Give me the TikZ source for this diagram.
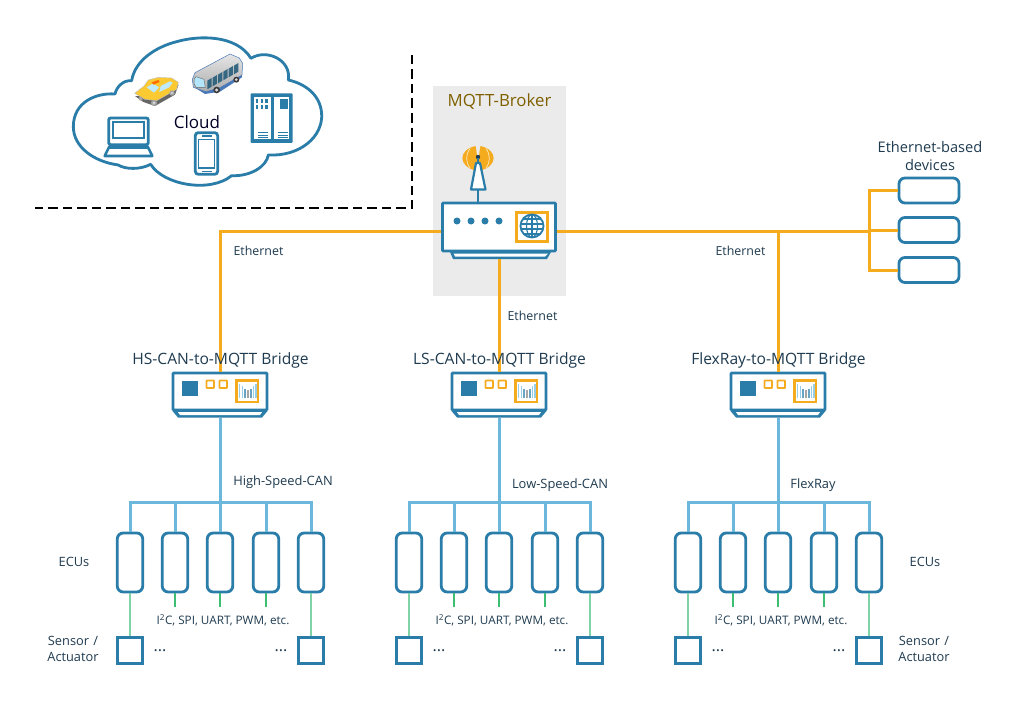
\documentclass[tikz,border=0pt]{standalone}
\usepackage{fontspec}
\setmainfont{Open Sans}
\definecolor{cblue}{HTML}{2A7DA8}
\definecolor{corange}{HTML}{F5AB1E}
\definecolor{clight}{HTML}{6CB8DC}
\definecolor{cgreen}{HTML}{80D3A6}
\definecolor{cgreend}{HTML}{3CBF72}
\definecolor{cgray}{HTML}{EBEBEB}
\definecolor{ctext}{HTML}{1F3B50}
\definecolor{cbrown}{HTML}{7F6000}
\definecolor{ctaxi}{HTML}{FBC931}
\definecolor{cbusb}{HTML}{4A78B8}
\tikzset{
  ecubox/.style={draw=cblue,line width=2.8pt,rounded corners=6pt,fill=white,minimum width=25.5pt,minimum height=59pt,inner sep=0pt},
  sensbox/.style={draw=cblue,line width=2.8pt,fill=white,minimum width=25.5pt,minimum height=25.5pt,inner sep=0pt},
  devbox/.style={draw=cblue,line width=2.8pt,rounded corners=6pt,fill=white,minimum width=60pt,minimum height=25pt,inner sep=0pt},
  hostbox/.style={draw=cblue,line width=2.8pt,fill=white,inner sep=0pt,rounded corners=0.8pt},
  foot/.style={draw=none,inner sep=0pt,minimum height=6pt},
  ethline/.style={draw=corange,line width=3pt},
  canline/.style={draw=clight,line width=3pt},
  gline/.style={draw=cgreen,line width=1.8pt},
  gthin/.style={draw=cgreend,line width=1.1pt},
  big/.style={text=ctext,font=\fontsize{15.6}{18}\selectfont,inner sep=0pt,align=center},
  small/.style={text=ctext,font=\fontsize{12.4}{16}\selectfont,inner sep=0pt,align=center},
  icon/.style={draw=cblue,line width=2.6pt},
}
\begin{document}
\begin{tikzpicture}[x=1pt,y=-1pt]
\useasboundingbox[fill=white] (0,0) rectangle (1021,701);
% broker background
\node[fill=cgray,minimum width=133pt,minimum height=210pt,inner sep=0pt] (brokerbg) at (499.5,191) {};
% dashed cloud border
\coordinate (dA) at (412,55);
\coordinate (dB) at (412,208);
\coordinate (dC) at (35,208);
\draw[black,line width=1.6pt,dash pattern=on 9.5pt off 5pt] (dA) -- (dB) -- (dC);
% cloud
\begin{scope}[shift={(60,30)},x=0.3333pt,y=-0.3333pt]
\draw[cblue,line width=2.8pt,fill=white,line join=round]
 (165,192) .. controls (110,188) and (40,215) .. (40,290)
 .. controls (40,350) and (100,395) .. (175,405)
 .. controls (195,418) and (240,420) .. (272,403)
 .. controls (310,465) and (450,490) .. (515,437)
 .. controls (570,440) and (620,410) .. (625,375)
 .. controls (720,380) and (790,320) .. (785,250)
 .. controls (780,190) and (730,160) .. (685,150)
 .. controls (695,90) and (620,55) .. (573,85)
 .. controls (530,15) and (420,15) .. (350,35)
 .. controls (290,50) and (225,90) .. (215,152)
 .. controls (190,150) and (170,170) .. (165,192) -- cycle;
% laptop
\draw[icon,rounded corners=2pt,line width=2.8pt] (146,264) rectangle (265,344);
\draw[cblue,line width=1.1pt] (159,276) rectangle (252,324);
\draw[icon,line join=round,line width=2.6pt] (148,350) -- (134,378) -- (277,378) -- (263,350) -- cycle;
\fill[cblue] (146,344) rectangle (265,356);
% phone
\draw[icon,rounded corners=3pt,line width=2.8pt] (406,308) rectangle (473,433);
\draw[cblue,line width=1.3pt,fill=white] (416,328) rectangle (463,414);
\fill[cblue] (425,314) rectangle (455,320);
\fill[cblue] (425,423) rectangle (455,427);
% server
\fill[cblue,rounded corners=1pt] (572,190) rectangle (698,339);
\fill[white] (583,200) rectangle (632,328);
\fill[white] (642,200) rectangle (688,328);
\fill[cblue] (660,207) rectangle (685,237);
\foreach \gx in {588,602,616} \foreach \gy in {206,225} \fill[cblue] (\gx,\gy) rectangle ++(7,13);
\foreach \ly in {306,314,322} {\fill[cblue] (594,\ly) rectangle ++(30,2.5); \fill[cblue] (654,\ly) rectangle ++(30,2.5);}
\end{scope}
% taxi and bus
\begin{scope}[shift={(130,50)},x=0.3333pt,y=-0.3333pt]
\fill[gray!80!black] (15,138) -- (40,156) -- (75,168) -- (135,134) -- (146,104) -- (80,140) -- cycle;
\fill[ctaxi,draw=gray!50,line width=.4pt] (14,130) -- (42,108) -- (55,90) -- (85,82) -- (125,84) -- (145,97) -- (140,118) -- (80,152) -- (45,148) -- cycle;
\fill[cyan!25!white] (50,112) -- (68,101) -- (88,112) -- (72,128) -- cycle;
\fill[cyan!25!white] (92,108) -- (120,94) -- (128,98) -- (118,112) -- (88,126) -- cycle;
\fill[orange!85!red] (65,97) -- (85,90) -- (89,96) -- (70,104) -- cycle;
\fill[gray!70] (72,159) circle (9); \fill[gray!30] (72,159) circle (4);
\fill[gray!70] (126,129) circle (8); \fill[gray!30] (126,129) circle (3.5);
\fill[gray!70] (32,146) circle (6);
% bus
\fill[cbusb] (190,110) -- (225,132) -- (270,125) -- (336,82) -- (335,60) -- (270,100) -- cycle;
\shade[top color=gray!20,bottom color=gray!65,draw=cbusb,line width=.5pt] (187,88) -- (195,68) -- (300,12) -- (328,24) -- (338,40) -- (336,75) -- (270,113) -- (228,125) -- (190,112) -- cycle;
\fill[white!70!cyan,draw=black!60,line width=.4pt] (193,86) -- (198,80) -- (222,88) -- (226,112) -- (198,112) -- (192,100) -- cycle;
\foreach \i in {0,1,2,3,4,5} \fill[cblue!70!black,opacity=.85] ({232+\i*16},{92-\i*9}) -- ++(13,-8) -- ++(0,26) -- ++(-13,8) -- cycle;
\fill[gray!45!black] (260,120) circle (10); \fill[gray!30] (260,120) circle (5);
\fill[gray!45!black] (319,89) circle (9); \fill[gray!30] (319,89) circle (4.5);
\end{scope}
% router
\node[hostbox,minimum width=113pt,minimum height=48pt] (router) at (499,227) {};
\fill[cblue] (450,252) -- (453,259) -- (547,259) -- (551,252) -- cycle;
\fill[white] (453.5,253.5) -- (455,256.5) -- (545,256.5) -- (548,253.5) -- cycle;
\node[foot,minimum width=95pt] (rfoot) at (499,256) {};
\foreach \dotx in {457,471,485,499} \fill[cblue] (\dotx,221) circle (3.5);
\draw[corange,line width=2.6pt,fill=white] (516.5,212.5) rectangle (547.5,241.5);
\begin{scope}
\clip (532,226) circle (11.5);
\fill[white] (532,226) circle (11.5);
\draw[cblue,line width=1.1pt] (532,226) ellipse (5.5 and 11.5);
\draw[cblue,line width=1.1pt] (532,214) -- (532,238);
\foreach \gly in {219,224,229,234} \draw[cblue,line width=1.1pt] (520,\gly) -- (544,\gly);
\end{scope}
\draw[cblue,line width=1.8pt] (532,226) circle (11.5);
% antenna
\fill[corange] (475.5,146) .. controls (458,150) and (458,166) .. (475.5,170.5) .. controls (477.5,162) and (477.5,155) .. (475.5,146) -- cycle;
\fill[corange] (480.5,146) .. controls (498,150) and (498,166) .. (480.5,170.5) .. controls (478.5,162) and (478.5,155) .. (480.5,146) -- cycle;
\draw[white!70!corange,line width=.7pt] (470,148.5) .. controls (465.5,155) and (465.5,162) .. (470,168);
\draw[white!70!corange,line width=.7pt] (486,148.5) .. controls (490.5,155) and (490.5,162) .. (486,168);
\draw[cblue,line width=1.8pt] (478,189) -- (478,202);
\draw[cblue,line width=2.2pt,fill=white,line join=round] (471,189.5) -- (476,163) -- (480,163) -- (485.5,189.5) -- cycle;
\fill[ctext] (478,157) circle (2.2);
\draw[cblue,line width=1.6pt] (478,158) -- (478,164);
% bridges
\foreach \p/\dx/\clab/\clabx/\claby in {h/0/High-Speed-CAN/283/482,l/279/Low-Speed-CAN/560/485,f/558/FlexRay/813/485}{
\begin{scope}[xshift=\dx pt]
\node[hostbox,minimum width=94pt,minimum height=37pt] (\p bridge) at (220,391.5) {};
\fill[cblue] (172.5,411) -- (178,417.5) -- (262,417.5) -- (267.5,411) -- cycle;
\fill[white] (178,412.2) -- (180,415) -- (260,415) -- (262,412.2) -- cycle;
\node[foot,minimum width=84pt] (\p foot) at (220,414.5) {};
\fill[cblue] (182,381) rectangle (198,396);
\draw[corange,line width=1.9pt,fill=white,rounded corners=.6pt] (206.5,380.5) rectangle (214,388);
\draw[corange,line width=1.9pt,fill=white,rounded corners=.6pt] (219.5,380.5) rectangle (227,388);
\foreach \bx/\bt/\bc in {239.5/384/clight!70,242.5/386/clight!70,245/389/cblue!70,248/390/gray!70,251/389/cblue!70,253.5/386/clight!70,256/384/clight!70}
  \draw[\bc,line width=1.5pt] (\bx,397.5) -- (\bx,\bt);
\draw[corange,line width=2.6pt] (236.5,380.5) rectangle (258,402);
% ECUs
\foreach \n/\ex in {1/130,2/175,3/220,4/266,5/311}{
  \node[ecubox] (\p e\n) at (\ex,562.5) {};
  \coordinate (\p b\n) at (\ex,502);
  \draw[canline] (\p b\n) -- (\p e\n.north);
}
\draw[canline,line cap=rect] (\p b1) -- (\p b5);
\draw[canline] (\p foot.south) -- (\p b3);
\node[sensbox] (\p s1) at (130,650.5) {};
\node[sensbox] (\p s5) at (311,650.5) {};
\draw[gline] (\p e1) -- (\p s1);
\draw[gline] (\p e5) -- (\p s5);
\foreach \n in {2,3,4}{
  \coordinate (\p g\n) at (\p e\n.south |- 0,607);
  \draw[gthin] (\p e\n.south) -- (\p g\n);
}
\node[small,font=\fontsize{11.7}{16}\selectfont] (\p proto) at (223,620) {I\textsuperscript{2}C, SPI, UART, PWM, etc.};
\node[small,font=\fontsize{16}{16}\selectfont] (\p da) at (160,651) {...};
\node[small,font=\fontsize{16}{16}\selectfont] (\p db) at (281,651) {...};
\end{scope}
\node[small,font=\fontsize{12.9}{16}\selectfont] (\p clabel) at (\clabx,\claby) {\clab};
}
% ethernet connectors
\coordinate (jh) at (220,231);
\coordinate (jt) at (869,231);
\coordinate (jf) at (778,231);
\node[devbox] (dev1) at (929,190.5) {};
\node[devbox] (dev2) at (929,230) {};
\node[devbox] (dev3) at (929,270) {};
\draw[ethline] (router.west |- jh) -- (jh) -- (hbridge.north);
\draw[ethline] (router.east |- jt) -- (jt) -- (jt |- dev2.west) -- (dev2.west);
\draw[ethline] (jf) -- (fbridge.north);
\draw[ethline] (rfoot.south) -- (lbridge.north);
\draw[ethline] (dev1.west) -| (jt) |- (dev3.west);
% bridge labels, above the connectors
\foreach \p/\dx/\blab in {h/0/HS-CAN-to-MQTT Bridge,l/279/LS-CAN-to-MQTT Bridge,f/558/FlexRay-to-MQTT Bridge}
  \node[big] (\p blabel) at ({220.5+\dx},360) {\blab};
% texts
\node[big,text=cbrown,font=\fontsize{16.8}{18}\selectfont] (brokerlabel) at (499.5,102) {MQTT-Broker};
\node[big,font=\fontsize{17}{18}\selectfont,text=black!85!blue] (cloudlabel) at (197,122) {Cloud};
\node[big,text width=120pt,font=\fontsize{14.6}{18}\selectfont] (devlabel) at (930,156) {Ethernet-based\\devices};
\node[small] (eth1) at (258.5,250.6) {Ethernet};
\node[small] (eth2) at (532.5,315.6) {Ethernet};
\node[small] (eth3) at (740.5,250.6) {Ethernet};
\node[small,font=\fontsize{12.8}{16}\selectfont] (ecu1) at (74,561.5) {ECUs};
\node[small,font=\fontsize{12.8}{16}\selectfont] (ecu2) at (925,561.5) {ECUs};
\node[small,text width=70pt,font=\fontsize{12.8}{16}\selectfont] (sa1) at (73,649) {Sensor /\\Actuator};
\node[small,text width=70pt,font=\fontsize{12.8}{16}\selectfont] (sa2) at (924,649) {Sensor /\\Actuator};
\end{tikzpicture}
\end{document}
